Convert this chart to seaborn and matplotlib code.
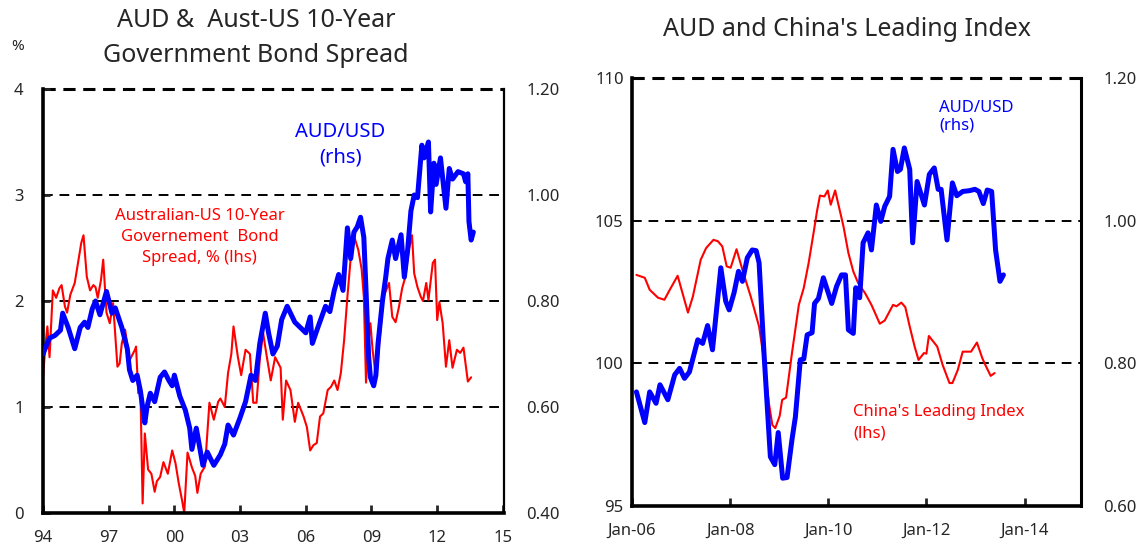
import numpy as np
import pandas as pd
import seaborn as sns
import matplotlib.pyplot as plt
from matplotlib.ticker import FormatStrFormatter

# ---- left panel: AUD/USD vs Aust-US 10y bond spread (decimal years) ----
spread_t = [1994.0, 1994.1, 1994.2, 1994.3, 1994.45, 1994.6, 1994.75, 1994.85, 1995.0, 1995.1,
            1995.25, 1995.45, 1995.6, 1995.75, 1995.85, 1996.0, 1996.15, 1996.3, 1996.4, 1996.5,
            1996.65, 1996.75, 1996.9, 1997.05, 1997.2, 1997.4, 1997.5, 1997.6, 1997.75, 1997.95,
            1998.1, 1998.2, 1998.25, 1998.35, 1998.45, 1998.55, 1998.65, 1998.8, 1998.95, 1999.1,
            1999.2, 1999.35, 1999.5, 1999.7, 1999.9, 2000.05, 2000.2, 2000.35, 2000.45, 2000.6,
            2000.8, 2000.95, 2001.05, 2001.2, 2001.4, 2001.6, 2001.8, 2002.0, 2002.1, 2002.3,
            2002.45, 2002.6, 2002.7, 2002.9, 2003.05, 2003.25, 2003.45, 2003.6, 2003.75, 2003.9,
            2004.05, 2004.2, 2004.4, 2004.6, 2004.85, 2004.95, 2005.1, 2005.3, 2005.5, 2005.65,
            2005.9, 2006.05, 2006.2, 2006.35, 2006.5, 2006.65, 2006.8, 2007.0, 2007.15, 2007.3,
            2007.45, 2007.6, 2007.75, 2007.9, 2008.15, 2008.3, 2008.4, 2008.55, 2008.65, 2008.75,
            2008.85, 2008.95, 2009.05, 2009.2, 2009.3, 2009.55, 2009.8, 2009.95, 2010.1, 2010.25,
            2010.4, 2010.55, 2010.7, 2010.85, 2010.95, 2011.1, 2011.25, 2011.35, 2011.5, 2011.6,
            2011.8, 2011.9, 2012.0, 2012.1, 2012.25, 2012.4, 2012.55, 2012.7, 2012.9, 2013.05,
            2013.2, 2013.4, 2013.55]
spread = [1.27, 1.55, 1.76, 1.47, 2.10, 2.03, 2.12, 2.15, 1.95, 1.89,
          2.06, 2.17, 2.36, 2.55, 2.62, 2.23, 2.10, 2.15, 2.13, 2.03,
          2.20, 2.39, 1.89, 1.79, 1.98, 1.38, 1.41, 1.60, 1.73, 1.44,
          1.50, 1.54, 1.57, 1.13, 1.15, 0.09, 0.75, 0.41, 0.37, 0.20,
          0.30, 0.34, 0.48, 0.37, 0.59, 0.47, 0.28, 0.12, 0.00, 0.57,
          0.43, 0.35, 0.19, 0.37, 0.44, 1.04, 0.88, 1.05, 1.08, 1.00,
          1.32, 1.50, 1.76, 1.47, 1.30, 1.54, 1.50, 1.04, 1.04, 1.45,
          1.70, 1.50, 1.25, 1.47, 1.37, 0.88, 1.25, 1.16, 0.86, 1.04,
          0.91, 0.81, 0.59, 0.64, 0.66, 0.91, 0.94, 1.16, 1.19, 1.25,
          1.16, 1.32, 1.63, 2.04, 2.65, 2.55, 2.48, 2.30, 2.04, 1.23,
          1.60, 1.79, 1.54, 1.28, 1.47, 2.04, 2.17, 1.85, 1.80, 1.94,
          2.12, 2.23, 2.48, 2.62, 2.26, 2.13, 2.04, 2.00, 2.17, 2.01,
          2.36, 2.39, 1.82, 1.99, 1.79, 1.38, 1.63, 1.37, 1.54, 1.51,
          1.56, 1.24, 1.28]

aud_l_t = [1994.0, 1994.1, 1994.3, 1994.55, 1994.8, 1994.9, 1995.15, 1995.3, 1995.45, 1995.7,
           1995.9, 1996.05, 1996.25, 1996.4, 1996.6, 1996.9, 1997.15, 1997.3, 1997.6, 1997.85,
           1997.95, 1998.1, 1998.3, 1998.45, 1998.65, 1998.75, 1998.9, 1999.1, 1999.35, 1999.55,
           1999.75, 1999.9, 2000.0, 2000.25, 2000.5, 2000.7, 2000.8, 2001.0, 2001.3, 2001.5,
           2001.8, 2002.1, 2002.3, 2002.45, 2002.7, 2003.0, 2003.25, 2003.5, 2003.7, 2003.9,
           2004.15, 2004.3, 2004.5, 2004.7, 2004.9, 2005.15, 2005.5, 2005.75, 2006.0, 2006.2,
           2006.3, 2006.55, 2006.9, 2007.1, 2007.3, 2007.5, 2007.7, 2007.9, 2008.05, 2008.2,
           2008.35, 2008.5, 2008.65, 2008.75, 2008.87, 2008.95, 2009.1, 2009.2, 2009.3, 2009.5,
           2009.65, 2009.75, 2009.95, 2010.1, 2010.35, 2010.5, 2010.65, 2010.8, 2010.95, 2011.1,
           2011.3, 2011.4, 2011.6, 2011.7, 2011.85, 2011.95, 2012.15, 2012.4, 2012.55, 2012.7,
           2012.95, 2013.2, 2013.3, 2013.4, 2013.45, 2013.55, 2013.65]
aud_l = [0.700, 0.710, 0.730, 0.735, 0.745, 0.777, 0.750, 0.730, 0.710, 0.750,
         0.760, 0.750, 0.785, 0.800, 0.774, 0.818, 0.777, 0.787, 0.750, 0.710,
         0.670, 0.650, 0.660, 0.630, 0.570, 0.600, 0.626, 0.610, 0.656, 0.666,
         0.650, 0.640, 0.660, 0.620, 0.594, 0.560, 0.520, 0.560, 0.490, 0.515,
         0.490, 0.510, 0.530, 0.566, 0.547, 0.580, 0.610, 0.660, 0.650, 0.720,
         0.777, 0.740, 0.700, 0.715, 0.765, 0.790, 0.760, 0.750, 0.740, 0.770,
         0.720, 0.750, 0.790, 0.780, 0.820, 0.850, 0.820, 0.938, 0.880, 0.930,
         0.940, 0.958, 0.920, 0.820, 0.695, 0.656, 0.640, 0.660, 0.720, 0.800,
         0.845, 0.880, 0.915, 0.880, 0.925, 0.845, 0.896, 0.970, 1.000, 0.995,
         1.094, 1.070, 1.100, 0.968, 1.060, 1.020, 1.070, 0.975, 1.050, 1.030,
         1.044, 1.040, 1.025, 1.040, 0.950, 0.915, 0.930]

# ---- right panel: AUD/USD vs China's leading index ----
cli_t = [2006.09, 2006.26, 2006.36, 2006.53, 2006.66, 2006.77, 2006.93, 2007.14, 2007.24, 2007.40,
         2007.51, 2007.66, 2007.75, 2007.84, 2007.93, 2008.01, 2008.13, 2008.25, 2008.42, 2008.59,
         2008.69, 2008.79, 2008.86, 2008.92, 2009.01, 2009.06, 2009.14, 2009.26, 2009.40, 2009.50,
         2009.60, 2009.70, 2009.77, 2009.83, 2009.92, 2009.99, 2010.05, 2010.14, 2010.31, 2010.41,
         2010.51, 2010.61, 2010.75, 2010.88, 2011.05, 2011.15, 2011.32, 2011.39, 2011.49, 2011.57,
         2011.66, 2011.76, 2011.84, 2011.95, 2012.00, 2012.05, 2012.22, 2012.33, 2012.47, 2012.53,
         2012.64, 2012.74, 2012.91, 2013.03, 2013.14, 2013.20, 2013.31, 2013.39]
cli = [103.10, 103.00, 102.58, 102.30, 102.23, 102.58, 103.07, 101.78, 102.34, 103.63,
       104.04, 104.33, 104.28, 104.10, 103.40, 103.35, 104.00, 103.28, 102.34, 101.29,
       100.12, 98.60, 97.84, 97.73, 98.16, 98.72, 98.80, 100.36, 102.05, 102.64,
       103.52, 104.57, 105.33, 105.88, 105.85, 106.06, 105.56, 106.06, 104.80, 103.87,
       103.22, 102.81, 102.46, 102.05, 101.39, 101.50, 102.05, 102.00, 102.13, 101.97,
       101.29, 100.59, 100.12, 100.36, 100.34, 100.96, 100.59, 99.95, 99.31, 99.31,
       99.77, 100.41, 100.41, 100.73, 100.18, 99.95, 99.56, 99.66]

aud_r_t = [2006.09, 2006.26, 2006.36, 2006.49, 2006.57, 2006.73, 2006.87, 2006.97, 2007.07, 2007.17,
           2007.34, 2007.44, 2007.54, 2007.64, 2007.81, 2007.91, 2007.98, 2008.08, 2008.17, 2008.25,
           2008.35, 2008.45, 2008.53, 2008.59, 2008.69, 2008.82, 2008.91, 2008.98, 2009.07, 2009.16,
           2009.26, 2009.33, 2009.43, 2009.50, 2009.57, 2009.67, 2009.72, 2009.80, 2009.90, 2010.07,
           2010.17, 2010.27, 2010.35, 2010.41, 2010.51, 2010.56, 2010.64, 2010.71, 2010.81, 2010.88,
           2010.98, 2011.07, 2011.15, 2011.25, 2011.32, 2011.41, 2011.47, 2011.55, 2011.66, 2011.72,
           2011.81, 2011.96, 2012.06, 2012.16, 2012.24, 2012.30, 2012.42, 2012.53, 2012.62, 2012.74,
           2012.87, 2012.99, 2013.07, 2013.16, 2013.24, 2013.33, 2013.41, 2013.50, 2013.57]
aud_r = [0.760, 0.717, 0.760, 0.744, 0.770, 0.749, 0.784, 0.793, 0.779, 0.788,
         0.833, 0.828, 0.853, 0.819, 0.934, 0.887, 0.875, 0.899, 0.929, 0.915,
         0.948, 0.959, 0.958, 0.941, 0.814, 0.669, 0.658, 0.703, 0.639, 0.640,
         0.693, 0.725, 0.805, 0.806, 0.840, 0.843, 0.884, 0.891, 0.920, 0.884,
         0.908, 0.924, 0.924, 0.847, 0.842, 0.906, 0.892, 0.969, 0.983, 0.959,
         1.022, 0.999, 1.020, 1.034, 1.100, 1.069, 1.072, 1.102, 1.072, 0.969,
         1.055, 1.022, 1.065, 1.074, 1.044, 1.044, 0.973, 1.053, 1.035, 1.041,
         1.042, 1.044, 1.041, 1.024, 1.043, 1.041, 0.959, 0.915, 0.924]

left_xticks = [1994, 1997, 2000, 2003, 2006, 2009, 2012, 2015]
left_xlabels = ['94', '97', '00', '03', '06', '09', '12', '15']
right_xticks = [2006, 2008, 2010, 2012, 2014]
right_xlabels = ['Jan-06', 'Jan-08', 'Jan-10', 'Jan-12', 'Jan-14']

sns.set_style("white")
plt.rcParams['font.family'] = ['Noto Sans', 'DejaVu Sans']

RED = '#ff0000'
BLUE = '#0000ff'

fig = plt.figure(figsize=(11.4, 5.48), dpi=100)
axL = fig.add_axes([0.0377, 0.0639, 0.4044, 0.7737])
axR = fig.add_axes([0.5544, 0.0766, 0.3938, 0.7810])


def style_axes(ax, twin):
    for s in ['left', 'bottom']:
        ax.spines[s].set_linewidth(2.6)
        ax.spines[s].set_color('black')
    ax.spines['top'].set_visible(False)
    ax.spines['right'].set_linewidth(1.6)
    ax.spines['right'].set_color('black')
    for s in twin.spines.values():
        s.set_visible(False)
    ax.tick_params(axis='x', direction='in', length=6, width=2, labelsize=12, pad=12,
                   top=False, bottom=True)
    ax.tick_params(axis='y', direction='in', length=5, width=2, labelsize=12,
                   left=True, right=False)
    twin.tick_params(axis='y', length=0, labelsize=12, pad=16)
    ax.set_xlabel('')
    ax.set_ylabel('')
    twin.set_ylabel('')


# left panel
twL = axL.twinx()
sns.lineplot(x=spread_t, y=spread, ax=axL, color=RED, lw=1.5)
sns.lineplot(x=aud_l_t, y=aud_l, ax=twL, color=BLUE, lw=3.6)
axL.set_xlim(1994, 2015.05)
axL.set_ylim(0, 4)
twL.set_ylim(0.4, 1.2)
axL.set_yticks([0, 1, 2, 3, 4])
twL.set_yticks([0.4, 0.6, 0.8, 1.0, 1.2])
twL.yaxis.set_major_formatter(FormatStrFormatter('%.2f'))
axL.set_xticks(left_xticks)
axL.set_xticklabels(left_xlabels)
for v in [1, 2, 3]:
    axL.axhline(v, color='black', lw=1.4, ls=(0, (5, 3.5)), zorder=0)
axL.axhline(4, color='black', lw=2.2, ls=(0, (4, 2.5)), zorder=0, clip_on=False)
style_axes(axL, twL)
axL.tick_params(axis='y', pad=14)
axL.text(0.645, 0.868, 'AUD/USD\n(rhs)', transform=axL.transAxes, color=BLUE,
         fontsize=14.5, ha='center', va='center', linespacing=1.35)
axL.text(0.34, 0.651, 'Australian-US 10-Year\nGovernement  Bond\nSpread, % (lhs)',
         transform=axL.transAxes, color=RED, fontsize=12, ha='center', va='center',
         linespacing=1.45)

# right panel
twR = axR.twinx()
sns.lineplot(x=cli_t, y=cli, ax=axR, color=RED, lw=1.5)
sns.lineplot(x=aud_r_t, y=aud_r, ax=twR, color=BLUE, lw=3.6)
axR.set_xlim(2006, 2015.15)
axR.set_ylim(95, 110)
twR.set_ylim(0.6, 1.2)
axR.set_yticks([95, 100, 105, 110])
twR.set_yticks([0.6, 0.8, 1.0, 1.2])
twR.yaxis.set_major_formatter(FormatStrFormatter('%.2f'))
axR.set_xticks(right_xticks)
axR.set_xticklabels(right_xlabels)
for v in [100, 105]:
    axR.axhline(v, color='black', lw=1.4, ls=(0, (5, 3.5)), zorder=0)
axR.axhline(110, color='black', lw=2.2, ls=(0, (4, 2.5)), zorder=0, clip_on=False)
style_axes(axR, twR)
axR.spines['right'].set_linewidth(2.2)
axR.tick_params(axis='y', length=0, pad=6)
axR.text(0.684, 0.909, 'AUD/USD\n(rhs)', transform=axR.transAxes, color=BLUE,
         fontsize=12, ha='left', va='center', linespacing=1.1)
axR.text(0.492, 0.194, "China's Leading Index\n(lhs)", transform=axR.transAxes, color=RED,
         fontsize=12, ha='left', va='center', linespacing=1.45)

# titles
fig.text(256 / 1140, 1 - 38 / 548, 'AUD &  Aust-US 10-Year\nGovernment Bond Spread',
         ha='center', va='center', fontsize=18, linespacing=1.55)
fig.text(847 / 1140, 1 - 30 / 548, "AUD and China's Leading Index",
         ha='center', va='center', fontsize=18)
fig.text(18 / 1140, 1 - 47 / 548, '%', ha='center', va='center', fontsize=11)

fig.savefig('out.png', dpi=100)
